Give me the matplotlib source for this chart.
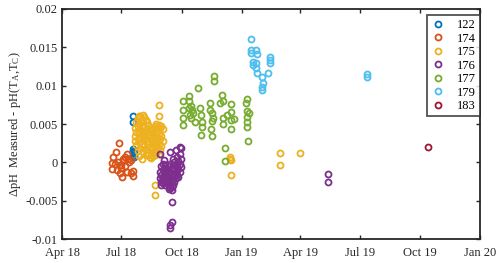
import numpy as np
import pandas as pd
import matplotlib
matplotlib.use("Agg")
import matplotlib.pyplot as plt
import matplotlib.dates as mdates
from matplotlib.ticker import FuncFormatter

# ---- data (date, delta pH) ----
dates_122 = ['2018-07-19', '2018-07-19', '2018-07-18', '2018-07-19', '2018-07-20',
             '2018-07-21', '2018-07-20', '2018-07-19']
vals_122 = [0.0061, 0.0053, 0.0017, 0.0015, 0.0012, 0.0010, 0.0007, 0.0013]

dates_174 = ['2018-06-27', '2018-06-22', '2018-06-18', '2018-06-17', '2018-06-17',
             '2018-06-29', '2018-07-02', '2018-07-10', '2018-07-11', '2018-07-18',
             '2018-07-18', '2018-07-05', '2018-07-01', '2018-07-06', '2018-06-24',
             '2018-07-09', '2018-07-15', '2018-07-01', '2018-07-06', '2018-07-13',
             '2018-06-26', '2018-06-29', '2018-07-16', '2018-07-03', '2018-06-21']
vals_174 = [0.0025, 0.0014, 0.0007, -0.0001, -0.0009,
            -0.0014, -0.0019, 0.0011, 0.0005, -0.0011,
            -0.0018, 0.0003, -0.0004, -0.0005, -0.0010,
            -0.0012, -0.0014, -0.0008, 0.0007, 0.0001,
            0.0000, -0.0003, 0.0003, 0.0005, -0.0002]

dates_175 = (['2018-07-22'] * 3 + ['2018-07-24'] * 3 + ['2018-07-26'] * 4 +
             ['2018-07-28'] * 5 + ['2018-07-30'] * 4 + ['2018-08-01'] * 5 +
             ['2018-08-03'] * 5 + ['2018-08-05'] * 4 + ['2018-08-07'] * 5 +
             ['2018-08-09'] * 4 + ['2018-08-11'] * 4 + ['2018-08-13'] * 4 +
             ['2018-08-15'] * 4 + ['2018-08-17'] * 3 + ['2018-08-19'] * 4 +
             ['2018-08-21'] * 4 + ['2018-08-23'] * 4 + ['2018-08-25'] * 3 +
             ['2018-08-27'] * 4 + ['2018-08-29'] * 3 + ['2018-08-31'] * 3 +
             ['2018-09-02'] * 2 +
             ['2018-08-28', '2018-08-28', '2018-08-22', '2018-08-21',
              '2018-12-14', '2018-12-14', '2018-12-15', '2018-12-15',
              '2019-03-01', '2019-03-01', '2019-04-01'])
vals_175 = [0.0045, 0.0035, 0.0028,
            0.0052, 0.0040, 0.0022,
            0.0058, 0.0047, 0.0031, 0.0015,
            0.0061, 0.0050, 0.0038, 0.0026, 0.0008,
            0.0060, 0.0044, 0.0033, 0.0019,
            0.0057, 0.0048, 0.0036, 0.0024, 0.0005,
            0.0062, 0.0052, 0.0040, 0.0029, 0.0013,
            0.0059, 0.0046, 0.0034, 0.0021,
            0.0055, 0.0042, 0.0030, 0.0016, 0.0009,
            0.0053, 0.0039, 0.0027, 0.0012,
            0.0049, 0.0036, 0.0023, 0.0010,
            0.0044, 0.0032, 0.0020, 0.0007,
            0.0041, 0.0029, 0.0017, 0.0006,
            0.0038, 0.0026, 0.0014,
            0.0043, 0.0031, 0.0019, 0.0008,
            0.0047, 0.0035, 0.0022, 0.0010,
            0.0050, 0.0038, 0.0025, 0.0012,
            0.0046, 0.0033, 0.0020,
            0.0049, 0.0037, 0.0024, 0.0011,
            0.0045, 0.0030, 0.0016,
            0.0047, 0.0034, 0.0021,
            0.0044, 0.0028,
            0.0075, 0.0060, -0.0030, -0.0043,
            0.0007, 0.0004, 0.0003, -0.0017,
            0.0012, -0.0003, 0.0012]

dates_176 = (['2018-08-29'] * 3 + ['2018-08-31'] * 4 + ['2018-09-02'] * 4 +
             ['2018-09-04'] * 4 + ['2018-09-06'] * 4 + ['2018-09-08'] * 3 +
             ['2018-09-12'] * 5 + ['2018-09-14'] * 6 + ['2018-09-16'] * 5 +
             ['2018-09-18'] * 5 + ['2018-09-20'] * 4 + ['2018-09-22'] * 4 +
             ['2018-09-24'] * 3 + ['2018-09-26'] * 3 + ['2018-09-28'] * 4 +
             ['2018-09-30'] * 3 +
             ['2018-09-17', '2018-09-17', '2018-09-14', '2018-09-14',
              '2019-05-14', '2019-05-14'])
vals_176 = [0.0011, -0.0013, -0.0020,
            -0.0005, -0.0016, -0.0025, -0.0030,
            -0.0002, -0.0010, -0.0021, -0.0027,
            0.0003, -0.0008, -0.0018, -0.0024,
            -0.0004, -0.0013, -0.0022, -0.0029,
            -0.0011, -0.0019, -0.0026,
            -0.0005, -0.0015, -0.0024, -0.0031, -0.0035,
            0.0014, -0.0002, -0.0012, -0.0020, -0.0028, -0.0034,
            -0.0008, -0.0017, -0.0025, -0.0032, -0.0036,
            0.0005, -0.0004, -0.0014, -0.0022, -0.0029,
            0.0001, -0.0009, -0.0018, -0.0026,
            0.0016, -0.0003, -0.0013, -0.0021,
            0.0007, -0.0006, -0.0016,
            0.0002, -0.0009, -0.0019,
            0.0020, 0.0011, -0.0002, -0.0012,
            0.0019, 0.0005, -0.0006,
            -0.0052, -0.0078, -0.0082, -0.0086,
            -0.0015, -0.0026]

dates_177 = ['2018-10-03', '2018-10-04', '2018-10-04', '2018-10-04',
             '2018-10-12', '2018-10-12', '2018-10-13', '2018-10-14', '2018-10-16',
             '2018-10-17', '2018-10-16', '2018-10-19', '2018-10-21',
             '2018-10-26', '2018-10-30', '2018-10-31', '2018-11-01', '2018-10-31',
             '2018-11-02',
             '2018-11-14', '2018-11-14', '2018-11-16', '2018-11-17', '2018-11-15',
             '2018-11-16', '2018-11-18',
             '2018-11-20', '2018-11-20',
             '2018-11-29', '2018-12-02', '2018-12-03', '2018-12-06', '2018-12-06',
             '2018-12-04', '2018-12-04', '2018-12-09',
             '2018-12-15', '2018-12-15', '2018-12-15', '2018-12-20', '2018-12-16',
             '2019-01-08', '2019-01-09', '2019-01-09', '2019-01-09', '2019-01-10',
             '2019-01-12', '2019-01-11', '2019-01-10']
vals_177 = [0.0080, 0.0068, 0.0058, 0.0049,
            0.0087, 0.0080, 0.0071, 0.0062, 0.0073,
            0.0068, 0.0058, 0.0064, 0.0052,
            0.0097, 0.0071, 0.0062, 0.0053, 0.0036,
            0.0046,
            0.0077, 0.0068, 0.0064, 0.0054, 0.0044,
            0.0034, 0.0058,
            0.0112, 0.0106,
            0.0077, 0.0088, 0.0080, 0.0019, 0.0002,
            0.0058, 0.0050, 0.0062,
            0.0076, 0.0066, 0.0055, 0.0056, 0.0044,
            0.0077, 0.0067, 0.0059, 0.0053, 0.0082,
            0.0064, 0.0028, 0.0046]

dates_179 = ['2019-01-16', '2019-01-16', '2019-01-16', '2019-01-23', '2019-01-24',
             '2019-01-18', '2019-01-18', '2019-01-23', '2019-01-23', '2019-01-24',
             '2019-02-01', '2019-02-02', '2019-02-01', '2019-02-01', '2019-02-10',
             '2019-02-13', '2019-02-13', '2019-02-13', '2019-07-12', '2019-07-12']
vals_179 = [0.0161, 0.0146, 0.0143, 0.0146, 0.0141,
            0.0131, 0.0127, 0.0130, 0.0123, 0.0117,
            0.0111, 0.0103, 0.0098, 0.0094, 0.0117,
            0.0138, 0.0134, 0.0129, 0.0115, 0.0111]

dates_183 = ['2019-10-14']
vals_183 = [0.0020]

labels = ['122', '174', '175', '176', '177', '179', '183']
colors = ['#0072BD', '#D95319', '#EDB120', '#7E2F8E', '#77AC30', '#4DBEEE', '#A2142F']
all_dates = [dates_122, dates_174, dates_175, dates_176, dates_177, dates_179, dates_183]
all_vals = [vals_122, vals_174, vals_175, vals_176, vals_177, vals_179, vals_183]

plt.rcParams['font.family'] = ['Liberation Serif', 'DejaVu Serif']
plt.rcParams['mathtext.fontset'] = 'custom'
plt.rcParams['mathtext.rm'] = 'Liberation Serif'
plt.rcParams['mathtext.it'] = 'Liberation Serif'

fig = plt.figure(figsize=(5.0, 2.63), dpi=100)
ax = fig.add_axes([0.124, 0.091, 0.836, 0.875])

for d, v, lab, c in zip(all_dates, all_vals, labels, colors):
    ax.plot(pd.to_datetime(d), v, linestyle='none', marker='o', markersize=4.3,
            markerfacecolor='none', markeredgecolor=c, markeredgewidth=1.3, label=lab)

ax.set_xlim(pd.Timestamp('2018-04-01'), pd.Timestamp('2020-01-01'))
ax.set_ylim(-0.01, 0.02)
ax.set_xticks(pd.date_range('2018-04-01', '2020-01-01', freq='3MS'))
ax.xaxis.set_major_formatter(mdates.DateFormatter('%b %y'))
ax.set_yticks(np.arange(-0.01, 0.0201, 0.005))
ax.yaxis.set_major_formatter(FuncFormatter(lambda y, p: '0' if abs(y) < 1e-9 else '%g' % y))

ax.tick_params(direction='in', top=True, right=True, length=3, width=1.0,
               labelsize=9, colors='#262626', pad=3)
ax.tick_params(axis='x', pad=6)
for s in ax.spines.values():
    s.set_linewidth(1.3)
    s.set_color('#262626')

ax.set_ylabel(r'$\Delta$pH  Measured - pH(T$_A$,T$_C$)', fontsize=9, color='#262626', labelpad=2)

leg = ax.legend(loc='upper right', bbox_to_anchor=(1.0, 0.975), borderaxespad=0,
                fontsize=9, frameon=True, fancybox=False, handlelength=1.0,
                handletextpad=1.0, labelspacing=0.12, borderpad=0.35)
leg.get_frame().set_edgecolor('#262626')
leg.get_frame().set_linewidth(1.3)

fig.savefig('out.png', dpi=100)
